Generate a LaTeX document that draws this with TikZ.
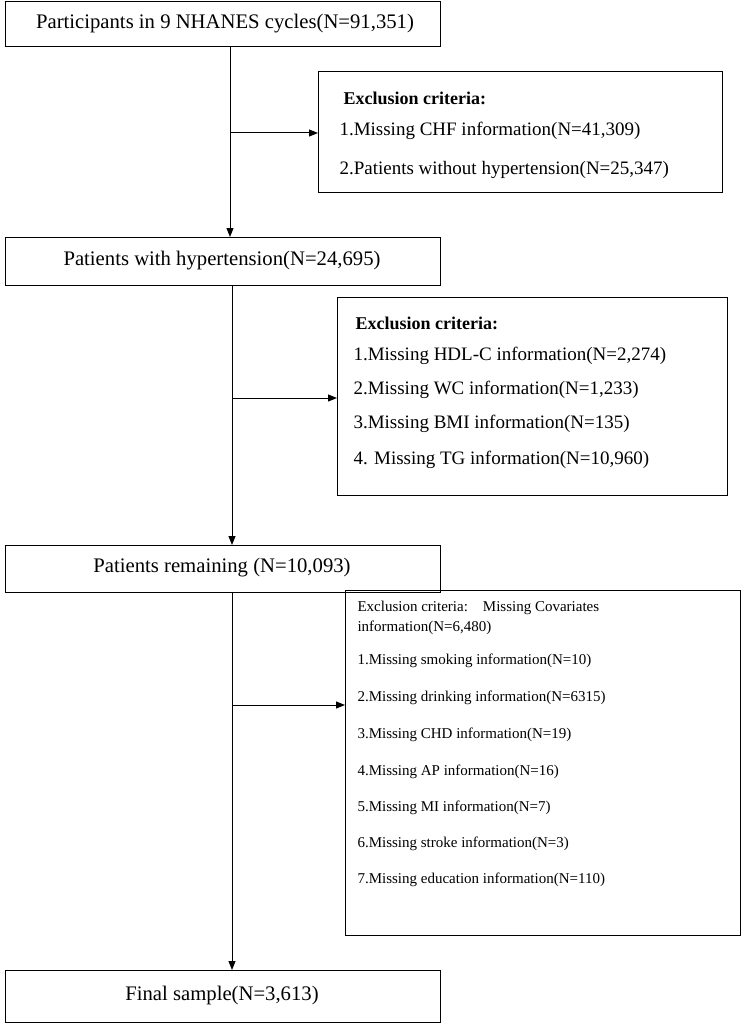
\documentclass[tikz,border=0pt]{standalone}
\usepackage{fontspec}
\setmainfont{Liberation Serif}
\usetikzlibrary{arrows.meta}
\begin{document}
\begin{tikzpicture}[x=1pt,y=-1pt,
  box/.style={draw,line width=1pt,rectangle},
  arr/.style={line width=1pt,-{Triangle[length=9pt,width=7pt]}},
  mt/.style={font=\fontsize{20.7}{24}\selectfont,anchor=center},
  et/.style={font=\fontsize{19}{22}\selectfont,anchor=west},
  st/.style={font=\fontsize{15}{17}\selectfont,anchor=west}]
\useasboundingbox (0,0) rectangle (744,1027);
% main boxes
\draw[box] (5,2) rectangle (440,47);
\node[mt] (b1) at (225,24) {Participants in 9 NHANES cycles(N=91,351)};
\coordinate (b1b) at (230,47);
\draw[box] (5,237) rectangle (440,285);
\node[mt] at (222,261) {Patients with hypertension(N=24,695)};
\coordinate (b2t) at (230,237);
\coordinate (b2b) at (232,285);
\draw[box] (5,545) rectangle (440,592);
\node[mt] at (222,568) {Patients remaining (N=10,093)};
\coordinate (b3t) at (232,545);
\coordinate (b3b) at (232,592);
\draw[box] (5,970) rectangle (440,1022);
\node[mt] at (222,996) {Final sample(N=3,613)};
\coordinate (b4t) at (232,970);
% exclusion 1
\draw[box] (318,72) rectangle (722,192);
\coordinate (e1) at (318,133);
\node[et,font=\fontsize{18}{21}\selectfont\bfseries] at (340,98) {Exclusion criteria:};
\node[et] at (336,131) {1.Missing CHF information(N=41,309)};
\node[et] at (336,170) {2.Patients without hypertension(N=25,347)};
% exclusion 2
\draw[box] (337,297) rectangle (727,495);
\coordinate (e2) at (337,398);
\node[et,font=\fontsize{18}{21}\selectfont\bfseries] at (352,323) {Exclusion criteria:};
\node[et] at (350,356) {1.Missing HDL-C information(N=2,274)};
\node[et] at (350,390) {2.Missing WC information(N=1,233)};
\node[et] at (350,424) {3.Missing BMI information(N=135)};
\node[et] at (350,460) {4. Missing TG information(N=10,960)};
% exclusion 3
\draw[box] (345,590) rectangle (740,935);
\coordinate (e3) at (345,705);
\node[st] at (354,608) {Exclusion criteria:\quad Missing Covariates};
\node[st] at (354,628) {information(N=6,480)};
\node[st] at (354,661) {1.Missing smoking information(N=10)};
\node[st] at (354,698) {2.Missing drinking information(N=6315)};
\node[st] at (354,735) {3.Missing CHD information(N=19)};
\node[st] at (354,772) {4.Missing AP information(N=16)};
\node[st] at (354,808) {5.Missing MI information(N=7)};
\node[st] at (354,844) {6.Missing stroke information(N=3)};
\node[st] at (354,880) {7.Missing education information(N=110)};
% connectors
\draw[arr] (b1b) -- (b2t);
\draw[arr] (230,133) -- (e1);
\draw[arr] (b2b) -- (b3t);
\draw[arr] (232,398) -- (e2);
\draw[arr] (b3b) -- (b4t);
\draw[arr] (232,705) -- (e3);
\end{tikzpicture}
\end{document}
